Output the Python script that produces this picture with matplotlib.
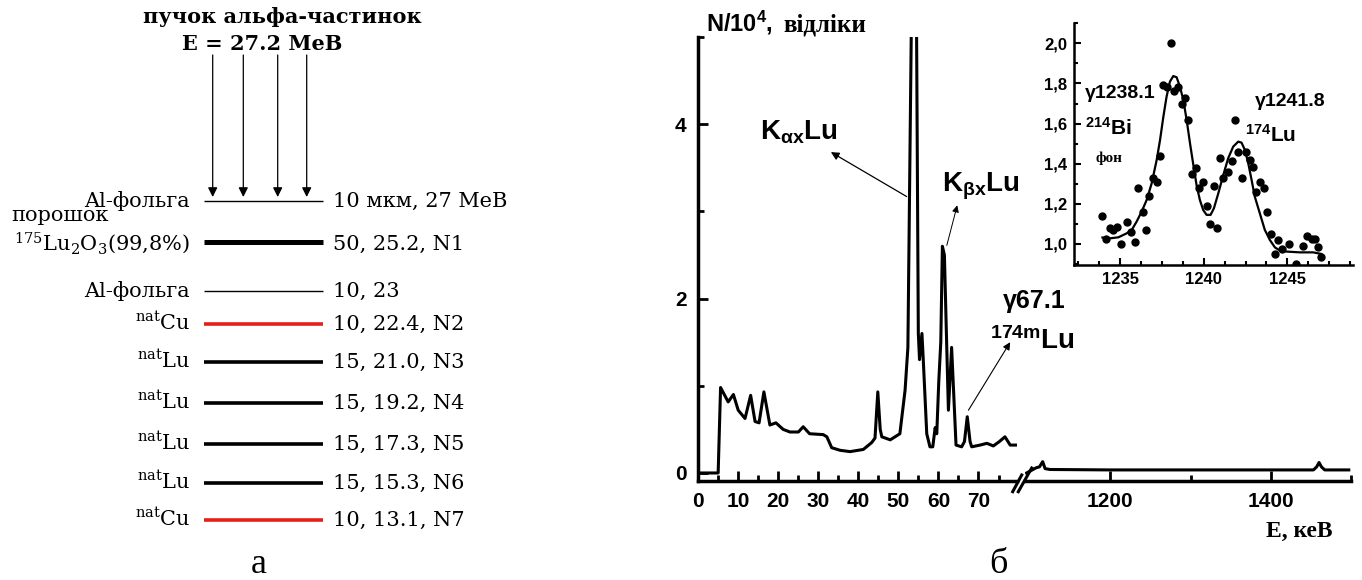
import matplotlib
matplotlib.use("Agg")
import matplotlib.pyplot as plt
from matplotlib.ticker import MultipleLocator, FixedLocator, FuncFormatter
from matplotlib.lines import Line2D

plt.rcParams["mathtext.default"] = "regular"

SANS = "Liberation Sans"
SERIF = "Liberation Serif"
SERIF_A = "DejaVu Serif"   # ширший шрифт для схеми (а)

# ---------------- (а) схема мішеней ----------------
layer_labels = ["Al-фольга", "$^{175}$Lu$_2$O$_3$(99,8%)", "Al-фольга",
                "$^{nat}$Cu", "$^{nat}$Lu", "$^{nat}$Lu", "$^{nat}$Lu",
                "$^{nat}$Lu", "$^{nat}$Cu"]
layer_values = ["10 мкм, 27 MeB", "50, 25.2, N1", "10, 23", "10, 22.4, N2",
                "15, 21.0, N3", "15, 19.2, N4", "15, 17.3, N5", "15, 15.3, N6",
                "10, 13.1, N7"]
layer_material = ["Al", "Lu2O3", "Al", "Cu", "Lu", "Lu", "Lu", "Lu", "Cu"]

# ---------------- (б) спектр ----------------
energy_low = [0, 5.1, 5.7, 7.6, 8.9, 10.1, 11.8, 13.2, 14.3, 15.3, 16.5, 18.0,
              19.5, 21.3, 23.0, 25.1, 26.3, 27.9, 31.3, 32.2, 33.4, 35.5, 38.0,
              41.3, 43.4, 44.2, 44.9, 45.5, 45.9, 48.0, 50.4, 51.7, 52.4, 54.1,
              55.0, 55.3, 55.9, 56.2, 57.1, 57.9, 58.6, 59.2, 59.6, 60.1, 60.6,
              61.0, 61.5, 62.0, 62.5, 63.3, 64.4, 65.8, 66.5, 67.2, 67.9, 68.3,
              70.4, 72.1, 73.7, 75.2, 76.6, 77.9, 79.5]
counts_low = [0, 0, 0.98, 0.815, 0.90, 0.72, 0.625, 0.89, 0.59, 0.575, 0.93, 0.55,
              0.575, 0.50, 0.47, 0.47, 0.53, 0.45, 0.44, 0.415, 0.29, 0.26, 0.245,
              0.27, 0.35, 0.40, 0.93, 0.50, 0.415, 0.38, 0.45, 0.95, 1.44, 8.75,
              1.6, 1.3, 1.6, 1.33, 0.45, 0.30, 0.30, 0.52, 0.45, 1.05, 1.5,
              2.6, 2.5, 1.6, 0.72, 1.44, 0.32, 0.30, 0.36, 0.645, 0.36, 0.30,
              0.32, 0.34, 0.31, 0.36, 0.415, 0.32, 0.32]

energy_high = [1096, 1100, 1104, 1108, 1112, 1116, 1119, 1125, 1200, 1300, 1400,
               1453, 1457, 1460, 1463, 1467, 1497]
counts_high = [0.0, 0.02, 0.04, 0.06, 0.07, 0.13, 0.05, 0.04, 0.035, 0.035,
               0.035, 0.035, 0.07, 0.12, 0.07, 0.035, 0.035]

# вставка: 1232-1248 кеВ
inset_e = [1233.95, 1234.16, 1234.4, 1234.6, 1234.8, 1235.04, 1235.44, 1235.66,
           1235.9, 1236.1, 1236.35, 1236.53, 1236.73, 1236.95, 1237.19, 1237.39,
           1237.59, 1237.82, 1238.02, 1238.24, 1238.48, 1238.68, 1238.88, 1239.08,
           1239.28, 1239.51, 1239.73, 1239.93, 1240.17, 1240.37, 1240.59, 1240.81,
           1241.0, 1241.17, 1241.46, 1241.66, 1241.86, 1242.06, 1242.3, 1242.52,
           1242.76, 1242.96, 1243.15, 1243.39, 1243.59, 1243.81, 1244.0, 1244.25,
           1244.45, 1244.65, 1245.08, 1245.5, 1245.94, 1246.18, 1246.44, 1246.63,
           1246.83, 1247.03]
inset_n = [1.14, 1.023, 1.078, 1.07, 1.086, 1.0, 1.11, 1.06, 1.008, 1.277, 1.16,
           1.07, 1.24, 1.33, 1.31, 1.44, 1.79, 1.78, 2.0, 1.76, 1.78, 1.70, 1.73,
           1.62, 1.35, 1.38, 1.28, 1.31, 1.19, 1.10, 1.29, 1.08, 1.43, 1.33, 1.36,
           1.415, 1.62, 1.457, 1.33, 1.46, 1.42, 1.385, 1.26, 1.31, 1.28, 1.16,
           1.05, 0.95, 1.02, 0.975, 1.0, 0.90, 0.99, 1.04, 1.023, 1.023, 0.987,
           0.937]
fit_e = [1233.95, 1234.40, 1234.90, 1235.40, 1235.70, 1235.99, 1236.29, 1236.59,
         1236.89, 1237.19, 1237.39, 1237.59, 1237.78, 1237.98, 1238.18, 1238.38,
         1238.58, 1238.78, 1238.98, 1239.18, 1239.38, 1239.57, 1239.77, 1239.97,
         1240.17, 1240.41, 1240.61, 1240.87, 1241.17, 1241.46, 1241.76, 1242.06,
         1242.26, 1242.46, 1242.66, 1242.86, 1243.05, 1243.35, 1243.65, 1243.95,
         1244.25, 1244.55, 1244.94, 1245.74, 1246.54, 1247.03]
fit_n = [1.032, 1.028, 1.033, 1.053, 1.070, 1.111, 1.161, 1.219, 1.302, 1.419,
         1.518, 1.635, 1.734, 1.809, 1.837, 1.831, 1.784, 1.718, 1.618, 1.502,
         1.394, 1.294, 1.219, 1.169, 1.145, 1.145, 1.178, 1.252, 1.344, 1.427,
         1.485, 1.510, 1.505, 1.468, 1.402, 1.319, 1.236, 1.153, 1.070, 1.020,
         0.983, 0.967, 0.962, 0.958, 0.958, 0.950]

W, H = 1362, 580


def fx(x):
    return x / W


def fy(y):
    return 1 - y / H


fig = plt.figure(figsize=(W / 100, H / 100), dpi=100)

# ================= панель а =================
ax_a = fig.add_axes([0, 0, 660 / W, 1])
ax_a.set_xlim(0, 660)
ax_a.set_ylim(H, 0)
ax_a.axis("off")

ax_a.text(282, 23, "пучок альфа-частинок", family=SERIF_A, weight="bold",
          fontsize=15, ha="center", va="baseline")
ax_a.text(262, 50, "E = 27.2 MeB", family=SERIF_A, weight="bold",
          fontsize=15, ha="center", va="baseline")

for xb in [212.7, 243.3, 277.7, 306.7]:
    ax_a.annotate("", xy=(xb, 197), xytext=(xb, 55),
                  arrowprops=dict(arrowstyle="-|>", color="black", lw=0.9,
                                  mutation_scale=14, shrinkA=0, shrinkB=0))

layer_y = [201, 241.7, 290.7, 324, 362, 402.7, 444, 482.7, 520]
styles = {"Al": ("black", 1.0), "Lu2O3": ("black", 3.6),
          "Cu": ("#e32119", 2.6), "Lu": ("black", 2.6)}
for lab, val, mat, y in zip(layer_labels, layer_values, layer_material, layer_y):
    col, lw = styles[mat]
    ax_a.plot([204, 323], [y, y], color=col, lw=lw, solid_capstyle="butt")
    dy = 8 if mat == "Lu2O3" else 6
    ax_a.text(190, y + dy, lab, family=SERIF_A, fontsize=15, ha="right",
              va="baseline")
    ax_a.text(333, y + dy, val, family=SERIF_A, fontsize=15, ha="left",
              va="baseline")
ax_a.text(11, 221, "порошок", family=SERIF_A, fontsize=15, ha="left",
          va="baseline")
ax_a.text(259, 573, "а", family=SERIF, fontsize=26, ha="center",
          va="baseline")

# ================= панель б =================
ylo, yhi = -0.092, 5.0
ax1 = fig.add_axes([fx(697.7), fy(481), (1017 - 697.7) / W, 444 / H])
ax2 = fig.add_axes([fx(1025), fy(481), (1351.2 - 1025) / W, 444 / H])

ax1.plot(energy_low, counts_low, color="black", lw=2.2)
ax2.plot(energy_high, counts_high, color="black", lw=2.2)

ax1.set_xlim(0, 79.6)
ax2.set_xlim(1094, 1500)
for ax in (ax1, ax2):
    ax.set_ylim(ylo, yhi)
    ax.spines["top"].set_visible(False)
    ax.spines["right"].set_visible(False)
    ax.spines["bottom"].set_linewidth(2.5)
    ax.tick_params(which="both", direction="in", width=2, pad=8)
    ax.tick_params(which="major", length=7)
    ax.tick_params(which="minor", length=4)

ax1.spines["left"].set_linewidth(2.5)
ax1.xaxis.set_major_locator(FixedLocator(list(range(0, 80, 10))))
ax1.xaxis.set_minor_locator(MultipleLocator(5))
ax1.yaxis.set_major_locator(FixedLocator([0, 2, 4]))
ax1.yaxis.set_minor_locator(FixedLocator([1, 3, 5]))

ax2.spines["left"].set_visible(False)
ax2.set_yticks([])
ax2.xaxis.set_major_locator(FixedLocator([1200, 1400]))
ax2.xaxis.set_minor_locator(FixedLocator([1300, 1500]))

for ax in (ax1, ax2):
    for t in ax.get_xticklabels() + ax.get_yticklabels():
        t.set_fontfamily(SANS)
        t.set_fontweight("bold")
        t.set_fontsize(15)

# розрив осі
for x0, y0, x1, y1 in [(1012.7, 491.7, 1021.7, 475), (1018.3, 491.7, 1031.7, 468)]:
    fig.add_artist(Line2D([fx(x0), fx(x1)], [fy(y0), fy(y1)], color="black",
                          lw=2.2, transform=fig.transFigure))

# підписи осей
fig.text(fx(706), fy(31.7), "N/10$^{4}$,", family=SANS, weight="bold",
         fontsize=17, ha="left", va="baseline")
fig.text(fx(783), fy(31.7), "відліки", family=SERIF, weight="bold",
         fontsize=18, ha="left", va="baseline")
fig.text(fx(1266), fy(536.7), "E, кеВ", family=SERIF, weight="bold",
         fontsize=17, ha="left", va="baseline")
fig.text(fx(998), fy(573), "б", family=SERIF, fontsize=26, ha="center",
         va="baseline")

# позначки піків
fig.text(fx(760), fy(140), "K$_{αx}$Lu", family=SANS, weight="bold",
         fontsize=20, ha="left", va="baseline")
ax1.annotate("", xy=(33.2, 3.68), xytext=(52.1, 3.17),
             arrowprops=dict(arrowstyle="-|>", color="black", lw=0.9,
                             mutation_scale=12, shrinkA=0, shrinkB=0))
fig.text(fx(941.7), fy(191.7), "K$_{βx}$Lu", family=SANS, weight="bold",
         fontsize=20, ha="left", va="baseline")
ax1.annotate("", xy=(64.7, 3.07), xytext=(62.1, 2.61),
             arrowprops=dict(arrowstyle="-|>", color="black", lw=0.7,
                             mutation_scale=10, shrinkA=0, shrinkB=0))
fig.text(fx(1003), fy(308), "γ67.1", family=SANS, weight="bold",
         fontsize=18, ha="left", va="baseline")
fig.text(fx(990), fy(349.3), "$^{174m}$Lu", family=SANS, weight="bold",
         fontsize=20, ha="left", va="baseline")
ax1.annotate("", xy=(77.9, 1.50), xytext=(67.5, 0.72),
             arrowprops=dict(arrowstyle="-|>", color="black", lw=0.8,
                             mutation_scale=11, shrinkA=0, shrinkB=0))
ax1.annotate("", xy=(1277.2, 2.03), xytext=(1238.6, 0.09),
             xycoords=ax2.transData, textcoords=ax2.transData,
             arrowprops=dict(arrowstyle="-|>", color="black", lw=2.5,
                             mutation_scale=24, shrinkA=0, shrinkB=0),
             annotation_clip=False)

# ================= вставка =================
ax_in = fig.add_axes([fx(1074), fy(265), (1352.7 - 1074) / W, (265 - 22.7) / H])
ax_in.plot(inset_e, inset_n, "o", color="black", ms=5)
ax_in.plot(fit_e, fit_n, color="black", lw=1.6)
ax_in.set_xlim(1232.25, 1248.9)
ax_in.set_ylim(0.895, 2.103)
ax_in.spines["top"].set_visible(False)
ax_in.spines["right"].set_visible(False)
ax_in.spines["left"].set_linewidth(1.8)
ax_in.spines["bottom"].set_linewidth(1.8)
ax_in.xaxis.set_major_locator(FixedLocator([1235, 1240, 1245]))
ax_in.xaxis.set_minor_locator(MultipleLocator(1.25))
ax_in.yaxis.set_major_locator(MultipleLocator(0.2))
ax_in.yaxis.set_minor_locator(MultipleLocator(0.1))
ax_in.yaxis.set_major_formatter(FuncFormatter(lambda v, p: f"{v:.1f}".replace(".", ",")))
ax_in.tick_params(which="both", direction="in", width=1.5, pad=5)
ax_in.tick_params(which="major", length=5)
ax_in.tick_params(which="minor", length=3)
for t in ax_in.get_xticklabels() + ax_in.get_yticklabels():
    t.set_fontfamily(SANS)
    t.set_fontweight("bold")
    t.set_fontsize(12)

fig.text(fx(1085), fy(98.3), "γ1238.1", family=SANS, weight="bold",
         fontsize=14, ha="left", va="baseline")
fig.text(fx(1085), fy(135), "$^{214}$Bi", family=SANS, weight="bold",
         fontsize=15, ha="left", va="baseline")
fig.text(fx(1095), fy(161.7), "фон", family=SERIF, weight="bold",
         fontsize=11, ha="left", va="baseline")
fig.text(fx(1255), fy(106), "γ1241.8", family=SANS, weight="bold",
         fontsize=14, ha="left", va="baseline")
fig.text(fx(1245), fy(141.7), "$^{174}$Lu", family=SANS, weight="bold",
         fontsize=15, ha="left", va="baseline")

fig.savefig("out.png", dpi=100)
